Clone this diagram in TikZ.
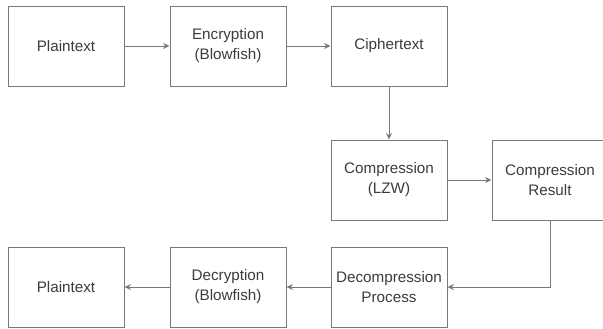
\documentclass[tikz,border=0pt]{standalone}
\usepackage{fontspec}
\setmainfont{Liberation Sans}
\usepackage{xcolor}
\usepackage{tikz}
\usetikzlibrary{shapes,arrows,arrows.meta,positioning}
\definecolor{LineGray}{HTML}{787878}
\definecolor{TextGray}{HTML}{3C3C3C}

\begin{document}
\begin{tikzpicture}[
  stage/.style={rectangle, draw=LineGray, line width=0.8pt, fill=white, minimum width=3.48cm, minimum height=2.4cm, align=center, text=TextGray, font=\fontsize{13}{17}\selectfont},
  arrow/.style={->, >={Stealth[length=5.5pt,width=5pt]}, line width=0.8pt, LineGray}
]
\useasboundingbox (0,0) rectangle (18.09,-9.87);

% Row 1: encryption
\node[stage] (plain) at (1.98,-1.38) {Plaintext};
\node[stage] (enc) at (6.84,-1.38) {Encryption\\(Blowfish)};
\node[stage] (cipher) at (11.67,-1.38) {Ciphertext};

% Row 2: compression
\node[stage] (comp) at (11.67,-5.4) {Compression\\(LZW)};
\node[stage] (result) at (16.5,-5.4) {Compression\\Result};

% Row 3: decompression and decryption
\node[stage] (decomp) at (11.67,-8.61) {Decompression\\Process};
\node[stage] (dec) at (6.84,-8.61) {Decryption\\(Blowfish)};
\node[stage] (plainout) at (1.98,-8.61) {Plaintext};

% Arrows
\draw[arrow] (plain) -- (enc);
\draw[arrow] (enc) -- (cipher);
\draw[arrow] (cipher) -- (comp);
\draw[arrow] (comp) -- (result);
\draw[arrow] (result.south) |- (decomp.east);
\draw[arrow] (decomp) -- (dec);
\draw[arrow] (dec) -- (plainout);

\end{tikzpicture}
\end{document}
